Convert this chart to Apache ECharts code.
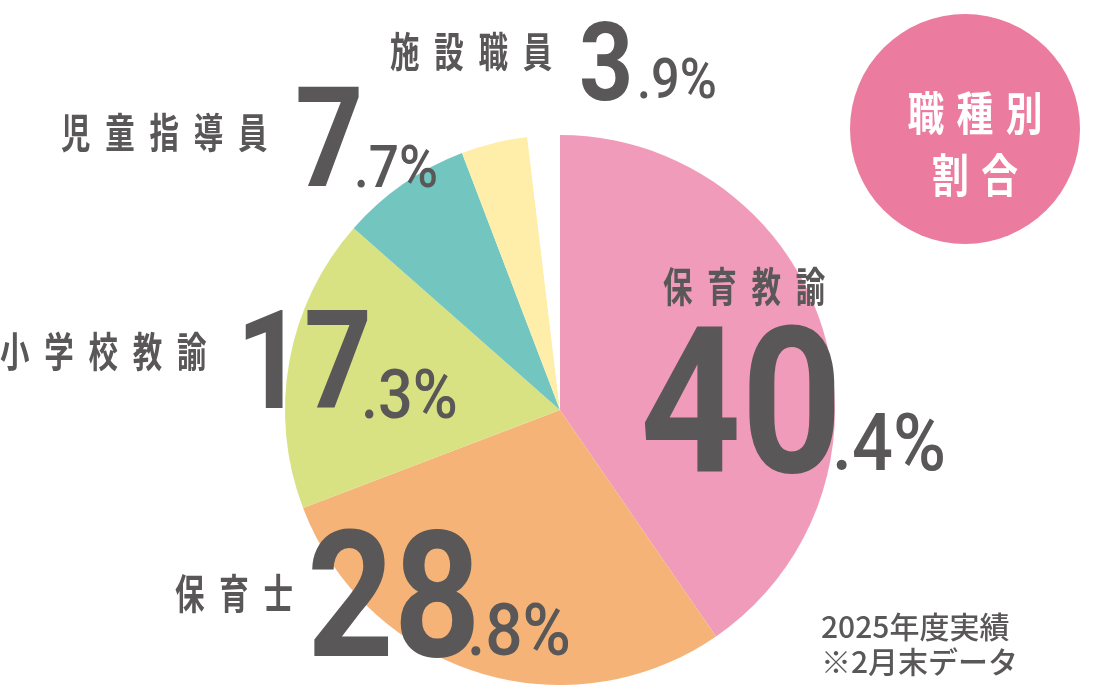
<!DOCTYPE html>
<html>
<head>
<meta charset="utf-8">
<script src="https://cdn.jsdelivr.net/npm/echarts@6/dist/echarts.min.js"></script>
<style>
html,body{margin:0;padding:0;background:#fff;}
#chart{width:1097px;height:685px;}
</style>
</head>
<body>
<div id="chart"></div>
<script>
// ---- data ----
const categories = ['保育教諭', '保育士', '小学校教諭', '児童指導員', '施設職員'];
const shares = [40.4, 28.8, 17.3, 7.7, 3.9];
const gapShare = 1.9; // unlabeled white wedge at the top
const badgeLines = ['職種別', '割合'];
const noteLines = ['2025年度実績', '※2月末データ'];

// ---- styles ----
const sliceColors = ['#F19BBB', '#F5B377', '#D8E283', '#73C5C0', '#FEEEAA'];
const textColor = '#595757';
const jpFont = '"Noto Sans CJK JP", "Noto Sans", sans-serif';
const numFont = 'Roboto, "Liberation Sans", sans-serif';
// label layout: name position, big integer part, small decimal part
const labelLayout = [
  { nx: 663, ny: 286, bx: 640, by: 421, bf: 205, sx: 832, sy: 450, sf: 80 },
  { nx: 175, ny: 593, bx: 307, by: 612, bf: 176, sx: 467, sy: 637, sf: 73 },
  { nx: 0,   ny: 351, bx: 236, by: 373, bf: 138, sx: 361, sy: 401, sf: 68 },
  { nx: 61,  ny: 132, bx: 295, by: 151, bf: 139, sx: 354, sy: 172, sf: 59 },
  { nx: 390, ny: 51,  bx: 579, by: 72,  bf: 110, sx: 637, sy: 84,  sf: 56 }
];

const chart = echarts.init(document.getElementById('chart'), null, { renderer: 'canvas' });

const pieData = categories.map((c, i) => ({ name: c, value: shares[i], itemStyle: { color: sliceColors[i] } }));
pieData.push({ name: '', value: gapShare, itemStyle: { color: '#FFFFFF' } });

const spaced = s => s.split('').join('\u2002');
const graphics = [];
categories.forEach((c, i) => {
  const L = labelLayout[i];
  const parts = shares[i].toFixed(1).split('.');
  graphics.push({
    type: 'text', x: L.nx, y: L.ny, scaleX: 0.72, z: 100,
    style: { text: spaced(c), fill: textColor, fontFamily: jpFont, fontWeight: 'bold', fontSize: 41, align: 'left', verticalAlign: 'middle' }
  });
  graphics.push({
    type: 'text', x: L.bx, y: L.by, scaleX: 0.86, z: 100,
    style: { text: parts[0], fill: textColor, fontFamily: numFont, fontWeight: 'bold', fontSize: L.bf, align: 'left', verticalAlign: 'middle' }
  });
  graphics.push({
    type: 'text', x: L.sx, y: L.sy, scaleX: 0.9, z: 100,
    style: { text: '.' + parts[1] + '%', fill: textColor, fontFamily: numFont, fontWeight: 500, fontSize: L.sf, align: 'left', verticalAlign: 'middle' }
  });
});

// badge
graphics.push({ type: 'circle', shape: { cx: 965, cy: 129, r: 115 }, style: { fill: '#EC7BA0' }, z: 90 });
graphics.push({
  type: 'text', x: 975, y: 144, scaleX: 0.8, z: 100,
  style: { text: badgeLines.map(s => s.split('').join('\u2004')).join('\n'), fill: '#FFFFFF', fontFamily: jpFont, fontWeight: 'bold', fontSize: 46, lineHeight: 62, align: 'center', verticalAlign: 'middle' }
});
// note
graphics.push({
  type: 'text', x: 821, y: 644, z: 100,
  style: { text: noteLines.join('\n'), fill: textColor, fontFamily: jpFont, fontWeight: 500, fontSize: 30, lineHeight: 35, align: 'left', verticalAlign: 'middle' }
});

chart.setOption({
  backgroundColor: '#FFFFFF',
  animation: false,
  series: [{
    type: 'pie',
    center: [560, 410],
    radius: [0, 275],
    startAngle: 90,
    clockwise: true,
    silent: true,
    label: { show: false },
    labelLine: { show: false },
    itemStyle: { borderWidth: 0 },
    data: pieData
  }],
  graphic: graphics
});
</script>
</body>
</html>
